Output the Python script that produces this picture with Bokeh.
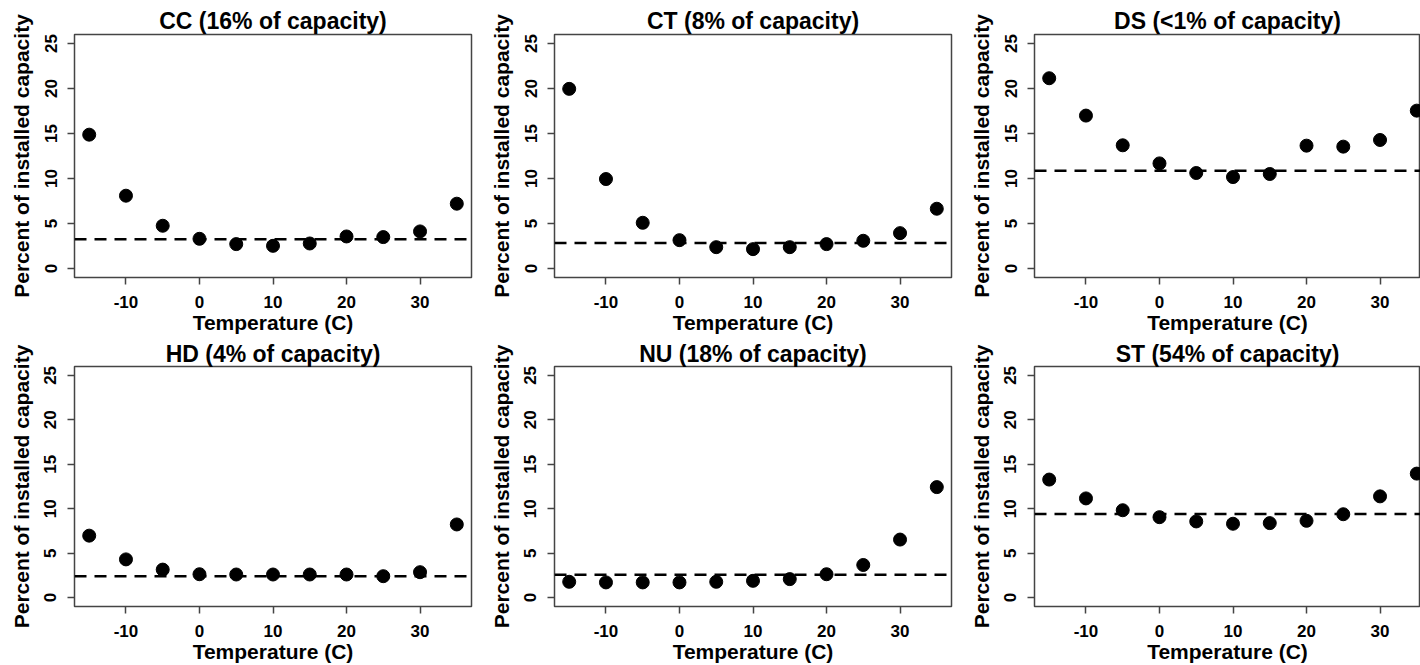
from bokeh.plotting import figure
from bokeh.layouts import gridplot
from bokeh.models import Span, Range1d, FixedTicker
from bokeh.embed import file_html
from bokeh.resources import INLINE

# ---- data ----
temperature = [-15, -10, -5, 0, 5, 10, 15, 20, 25, 30, 35]
cc = [14.87, 8.09, 4.75, 3.30, 2.71, 2.52, 2.78, 3.56, 3.49, 4.12, 7.20]
ct = [19.96, 9.94, 5.08, 3.15, 2.37, 2.15, 2.37, 2.71, 3.08, 3.93, 6.64]
ds = [21.14, 16.99, 13.69, 11.68, 10.61, 10.16, 10.50, 13.65, 13.54, 14.28, 17.54]
hd = [6.97, 4.30, 3.15, 2.63, 2.60, 2.60, 2.60, 2.60, 2.41, 2.86, 8.23]
nu = [1.78, 1.71, 1.71, 1.71, 1.78, 1.89, 2.08, 2.63, 3.67, 6.53, 12.43]
st = [13.28, 11.16, 9.83, 9.05, 8.57, 8.31, 8.38, 8.64, 9.38, 11.39, 13.95]
average_level = [3.26, 2.82, 10.87, 2.41, 2.56, 9.42]
titles = ["CC (16% of capacity)", "CT (8% of capacity)", "DS (<1% of capacity)",
          "HD (4% of capacity)", "NU (18% of capacity)", "ST (54% of capacity)"]
series = [cc, ct, ds, hd, nu, st]
x_ticks = [-10, 0, 10, 20, 30]
x_tick_labels = ["-10", "0", "10", "20", "30"]
y_ticks = [0, 5, 10, 15, 20, 25]

FONT = "Liberation Sans"
FRAME_COLOR = "#444444"


def make_panel(i):
    row, col = divmod(i, 3)
    width = 460 if col == 2 else 480
    right = 0 if col == 2 else 9
    if row == 0:
        height, top, bottom = 338, 34, 61
    else:
        height, top, bottom = 327, 26, 58
    frame_w = width - 74 - right
    x_end = -17 + 54 * frame_w / 397.0
    p = figure(width=width, height=height, output_backend="svg", toolbar_location=None,
               x_range=Range1d(-17, x_end), y_range=Range1d(-1, 26),
               min_border_left=74, min_border_right=right,
               min_border_top=top, min_border_bottom=bottom,
               title=titles[i])
    p.title.text_font = FONT
    p.title.text_font_size = "23px"
    p.title.text_font_style = "bold"
    p.title.align = "center"
    p.title.text_color = "black"
    p.title.standoff = 2 if row == 0 else 0
    p.title.offset = 0

    p.grid.visible = False
    p.outline_line_color = FRAME_COLOR
    p.outline_line_width = 1.5
    p.background_fill_color = "white"
    p.border_fill_color = "white"

    p.xaxis.ticker = FixedTicker(ticks=x_ticks)
    p.xaxis.major_label_overrides = {t: s for t, s in zip(x_ticks, x_tick_labels)}
    p.yaxis.ticker = FixedTicker(ticks=y_ticks)
    for ax in (p.xaxis[0], p.yaxis[0]):
        ax.axis_line_color = None
        ax.major_tick_line_color = FRAME_COLOR
        ax.major_tick_line_width = 1.5
        ax.major_tick_out = 7
        ax.major_tick_in = 0
        ax.minor_tick_line_color = None
        ax.major_label_text_font = FONT
        ax.major_label_text_font_size = "17px"
        ax.major_label_text_font_style = "bold"
        ax.major_label_text_color = "black"
        ax.axis_label_text_font = FONT
        ax.axis_label_text_font_size = "21px"
        ax.axis_label_text_font_style = "bold"
        ax.axis_label_text_color = "black"
    p.xaxis.axis_label = "Temperature (C)"
    p.yaxis.axis_label = "Percent of installed capacity"
    p.yaxis.major_label_orientation = "vertical"
    p.xaxis.major_label_standoff = 11
    p.yaxis.major_label_standoff = 11
    p.xaxis.axis_label_standoff = 0
    p.yaxis.axis_label_standoff = 9

    p.add_layout(Span(location=average_level[i], dimension="width", line_color="black",
                      line_width=2.5, line_dash="12 8"))
    p.scatter(temperature, series[i], size=13, color="black")
    return p


panels = [make_panel(i) for i in range(6)]
grid = gridplot([panels[0:3], panels[3:6]], toolbar_location=None)

open("out.html", "w").write(file_html(grid, INLINE))
